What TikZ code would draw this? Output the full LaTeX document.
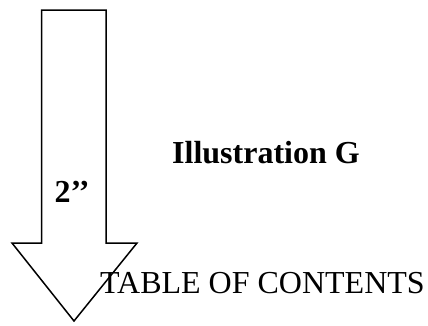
\documentclass[tikz,border=0pt]{standalone}
\usepackage{fontspec}
\setmainfont{Liberation Serif}
\begin{document}
\begin{tikzpicture}[x=1pt,y=-1pt,
  arrowline/.style={draw=black,line width=1.5pt,line join=miter},
  lbl/.style={inner sep=0pt,anchor=base west,font=\fontsize{32}{38}\selectfont},
  blbl/.style={lbl,font=\fontsize{32}{38}\selectfont\bfseries}]
\useasboundingbox (0,0) rectangle (428,325);
\draw[arrowline] (41.7,10) -- (106,10) -- (106,243) -- (137,243) -- (74,321)
  -- (12,243) -- (41.7,243) -- cycle;
\node[blbl,anchor=base] (dim) at (72,202) {2’’};
\node[blbl] (title) at (172,163) {Illustration G};
\node[lbl] (toc) at (100,293) {TABLE OF CONTENTS};
\end{tikzpicture}
\end{document}
